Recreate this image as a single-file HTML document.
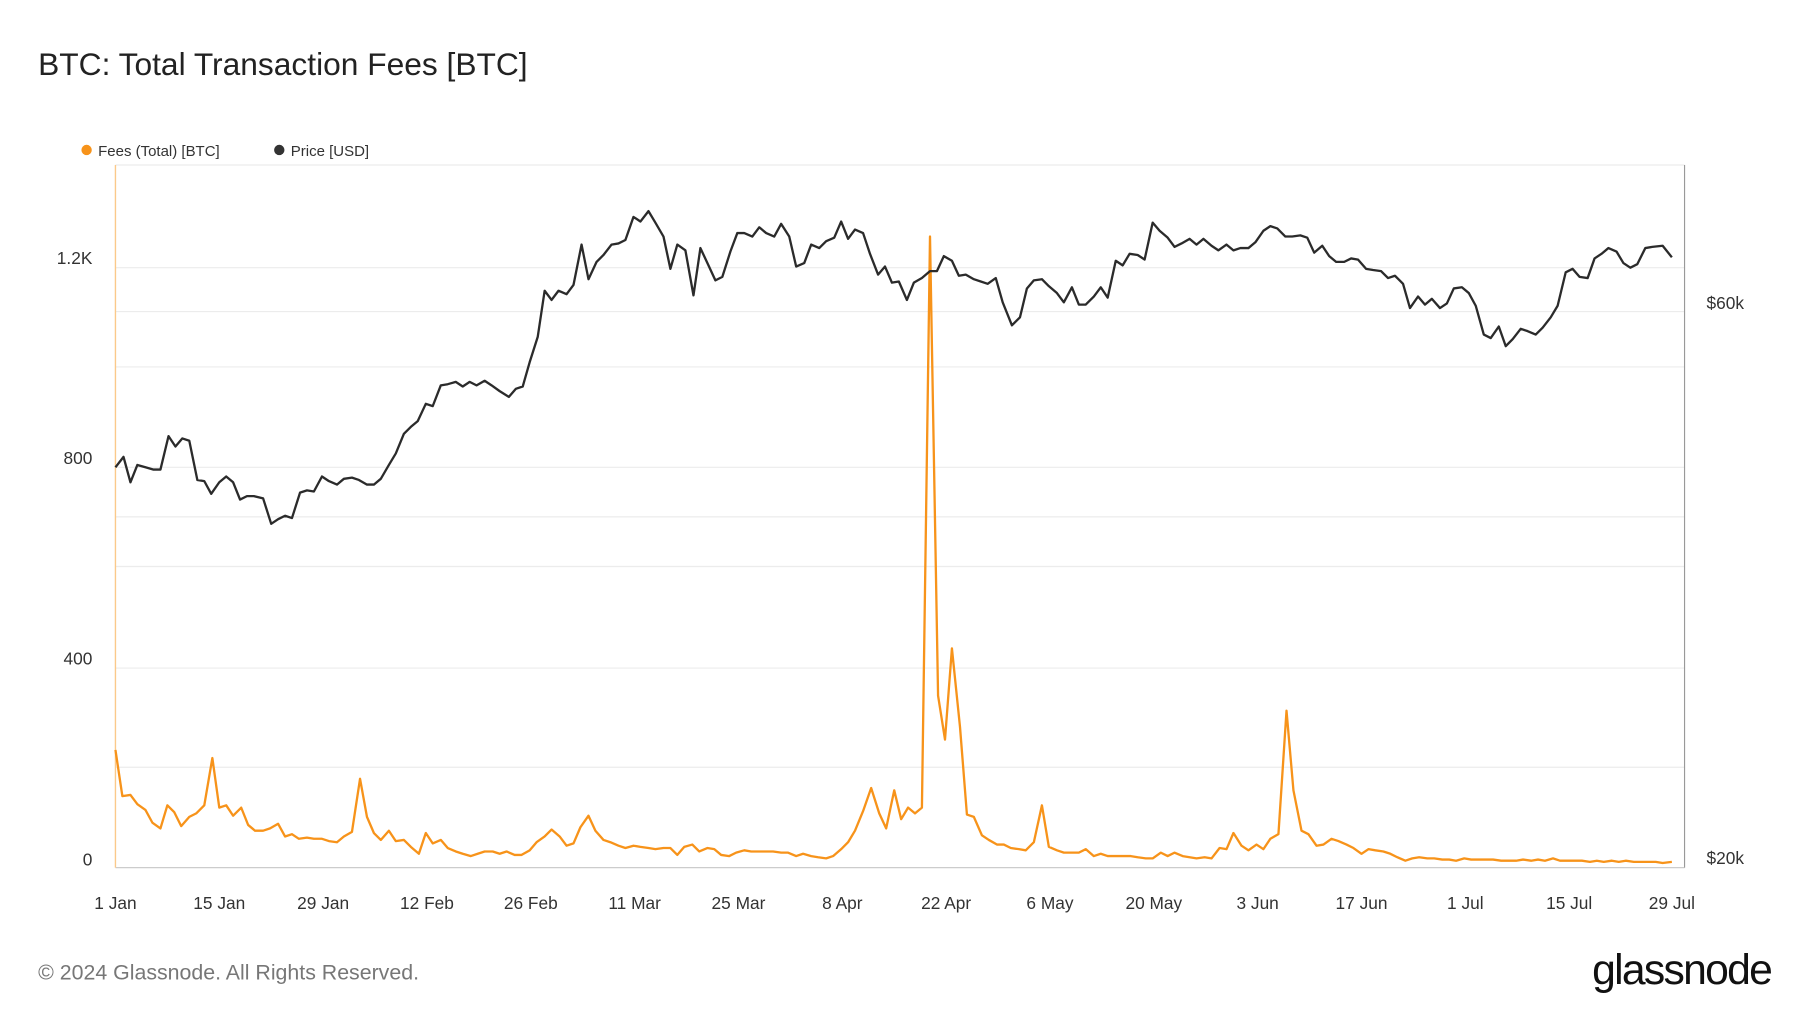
<!DOCTYPE html><html><head><style>body{margin:0;background:#fff}svg{display:block}text{font-family:"Liberation Sans",sans-serif}</style></head><body>
<svg width="1800" height="1013" viewBox="0 0 1560 878" xmlns="http://www.w3.org/2000/svg">
<text x="33" y="65" font-size="27.5" fill="#222">BTC: Total Transaction Fees [BTC]</text>
<circle cx="75" cy="130" r="4.5" fill="#f7931a"/><text x="85" y="135" font-size="13" fill="#333">Fees (Total) [BTC]</text>
<circle cx="242" cy="130" r="4.5" fill="#333"/><text x="252" y="135" font-size="13" fill="#333">Price [USD]</text>
<g stroke="#ececec" stroke-width="1">
<line x1="100" y1="143" x2="1460" y2="143"/><line x1="100" y1="232" x2="1460" y2="232"/><line x1="100" y1="270" x2="1460" y2="270"/><line x1="100" y1="318" x2="1460" y2="318"/><line x1="100" y1="405" x2="1460" y2="405"/><line x1="100" y1="448" x2="1460" y2="448"/><line x1="100" y1="491" x2="1460" y2="491"/><line x1="100" y1="579" x2="1460" y2="579"/><line x1="100" y1="665" x2="1460" y2="665"/></g>
<line x1="100" y1="752" x2="1460" y2="752" stroke="#ccc"/>
<line x1="100" y1="143" x2="100" y2="752" stroke="#fbc98a" stroke-width="1.2"/>
<line x1="1460" y1="143" x2="1460" y2="752" stroke="#999" stroke-width="1"/>
<g font-size="15" fill="#333" text-anchor="end"><text x="80" y="229">1.2K</text><text x="80" y="402">800</text><text x="80" y="576">400</text><text x="80" y="750">0</text></g>
<g font-size="15" fill="#333"><text x="1479" y="268">$60k</text><text x="1479" y="749">$20k</text></g>
<g font-size="15" fill="#333" text-anchor="middle"><text x="100" y="788">1 Jan</text><text x="190" y="788">15 Jan</text><text x="280" y="788">29 Jan</text><text x="370" y="788">12 Feb</text><text x="460" y="788">26 Feb</text><text x="550" y="788">11 Mar</text><text x="640" y="788">25 Mar</text><text x="730" y="788">8 Apr</text><text x="820" y="788">22 Apr</text><text x="910" y="788">6 May</text><text x="1000" y="788">20 May</text><text x="1090" y="788">3 Jun</text><text x="1180" y="788">17 Jun</text><text x="1270" y="788">1 Jul</text><text x="1360" y="788">15 Jul</text><text x="1449" y="788">29 Jul</text></g>
<polyline fill="none" stroke="#f7931a" stroke-width="2" stroke-linejoin="round" points="100,650 106,690 113,689 119,697 126,702 132,713 139,718 145,698 151,704 157,716 164,708 170,705 177,698 184,657 190,700 196,698 202,707 209,700 215,715 221,720 228,720 234,718 241,714 247,725 253,723 259,727 266,726 272,727 279,727 285,729 292,730 298,725 305,721 312,675 318,708 324,722 330,728 337,720 343,729 350,728 356,734 363,740 369,722 375,731 382,728 388,735 395,738 401,740 408,742 414,740 420,738 427,738 433,740 439,738 446,741 452,741 459,737 465,730 472,725 478,719 485,725 491,733 497,731 503,717 510,707 516,720 523,728 529,730 536,733 542,735 549,733 555,734 562,735 568,736 575,735 581,735 587,741 593,734 600,732 606,738 613,735 619,736 625,741 632,742 638,739 645,737 651,738 658,738 664,738 670,738 677,739 683,739 690,742 696,740 703,742 709,743 716,744 722,742 729,736 735,730 741,720 748,703 755,683 762,705 768,718 775,685 781,710 787,700 793,705 799,700 806,205 813,603 819,641 825,562 832,630 838,706 844,708 851,724 857,728 864,732 870,732 876,735 883,736 889,737 896,730 903,698 909,734 916,737 922,739 928,739 935,739 941,736 948,742 954,740 960,742 967,742 973,742 980,742 986,743 993,744 999,744 1006,739 1012,742 1018,739 1025,742 1031,743 1037,744 1044,743 1050,744 1057,735 1063,736 1069,722 1076,733 1082,737 1089,732 1095,736 1101,727 1108,723 1115,616 1121,685 1128,720 1134,723 1141,733 1147,732 1154,727 1160,729 1167,732 1173,735 1180,740 1186,736 1192,737 1199,738 1205,740 1211,743 1218,746 1224,744 1230,743 1237,744 1243,744 1250,745 1256,745 1262,746 1269,744 1275,745 1282,745 1288,745 1294,745 1301,746 1307,746 1314,746 1320,745 1327,746 1333,745 1339,746 1346,744 1352,746 1359,746 1365,746 1371,746 1378,747 1384,746 1390,747 1397,746 1403,747 1409,746 1416,747 1422,747 1429,747 1435,747 1441,748 1449,747"/>
<polyline fill="none" stroke="#2b2b2b" stroke-width="2" stroke-linejoin="round" points="100,405 107,396 113,418 119,403 126,405 133,407 139,407 146,378 152,387 158,380 164,382 171,416 177,417 183,428 190,418 196,413 202,418 208,433 214,430 220,430 228,432 235,454 241,450 247,447 253,449 260,427 266,425 272,426 279,413 285,417 292,420 298,415 305,414 311,416 318,420 324,420 330,415 337,403 343,393 350,376 356,370 362,365 369,350 375,352 382,334 388,333 395,331 401,335 407,331 413,334 420,330 426,334 433,339 441,344 447,337 453,335 459,314 466,292 472,252 478,260 484,252 491,255 497,247 504,212 510,242 517,227 523,221 530,212 536,211 542,208 549,188 555,192 562,183 568,193 575,205 581,233 587,212 594,217 601,256 607,215 614,230 620,243 626,240 633,218 639,202 645,202 652,205 658,197 664,202 671,205 677,194 684,205 690,231 697,228 703,212 710,215 716,209 723,206 729,192 735,207 741,199 748,202 754,220 761,238 767,231 773,245 779,244 786,260 792,245 799,241 806,235 812,235 818,222 825,226 831,239 837,238 844,242 850,244 856,246 863,241 869,262 877,282 884,275 890,250 896,243 903,242 909,248 916,254 922,262 929,249 935,264 941,264 948,257 954,249 960,258 967,226 973,230 979,220 986,221 992,225 999,193 1005,200 1012,206 1018,214 1024,211 1031,207 1037,212 1043,207 1050,213 1056,217 1063,212 1069,217 1075,215 1082,215 1088,210 1095,200 1101,196 1107,198 1114,205 1120,205 1127,204 1133,206 1139,219 1146,213 1152,222 1158,227 1165,227 1171,224 1177,225 1184,233 1190,234 1197,235 1203,241 1209,239 1216,246 1222,267 1229,257 1235,264 1241,259 1248,267 1254,263 1260,250 1267,249 1273,254 1279,265 1286,290 1292,293 1299,283 1305,300 1311,294 1318,285 1324,287 1331,290 1337,284 1344,275 1350,265 1357,236 1363,233 1369,240 1376,241 1382,224 1388,220 1394,215 1401,218 1407,228 1413,232 1419,229 1426,215 1432,214 1441,213 1449,223"/>
<text x="33" y="849" font-size="18.5" fill="#777">© 2024 Glassnode. All Rights Reserved.</text>
<text x="1535" y="853" font-size="37" fill="#111" text-anchor="end" letter-spacing="-1.5">glassnode</text>
</svg></body></html>
